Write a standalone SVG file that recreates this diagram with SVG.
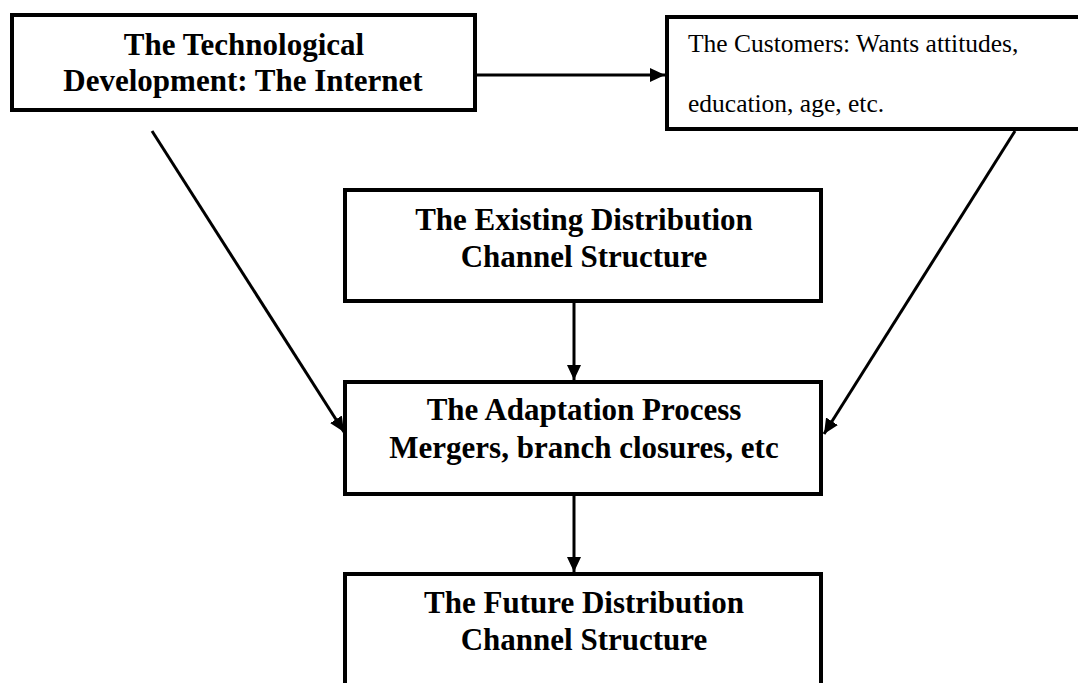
<svg xmlns="http://www.w3.org/2000/svg" width="1078" height="683" viewBox="0 0 1078 683">
<style>
.box{fill:#fff;stroke:#000;stroke-width:4}
.t{font-family:"Liberation Serif","Times New Roman",serif;font-weight:bold;font-size:31px;text-anchor:middle;fill:#000}
.r{font-family:"Liberation Serif","Times New Roman",serif;font-size:25.5px;fill:#000}
.c{stroke:#000;stroke-width:3;fill:none;marker-end:url(#ah)}
</style>
<defs>
<marker id="ah" markerUnits="userSpaceOnUse" markerWidth="16" markerHeight="16" viewBox="0 0 16 16" refX="15" refY="8" orient="auto">
<path d="M0,1 L15,8 L0,15 Z" fill="#000"/>
</marker>
</defs>
<rect width="1078" height="683" fill="#fff"/>
<g id="connectors">
<line class="c" x1="477" y1="75" x2="665" y2="75"/>
<line class="c" x1="152" y1="131" x2="344" y2="432"/>
<line class="c" x1="1015" y1="131" x2="824" y2="434"/>
<line class="c" x1="574" y1="303" x2="574" y2="380"/>
<line class="c" x1="574" y1="496" x2="574" y2="572"/>
</g>
<g id="tech">
<rect class="box" x="12" y="15" width="463" height="95"/>
<text class="t" x="244" y="55">The Technological</text>
<text class="t" x="243" y="91">Development: The Internet</text>
</g>
<g id="customers">
<rect class="box" x="667" y="17" width="420" height="112"/>
<text class="r" x="688" y="52">The Customers: Wants attitudes,</text>
<text class="r" x="688" y="112">education, age, etc.</text>
</g>
<g id="existing">
<rect class="box" x="345" y="190" width="476" height="111"/>
<text class="t" x="584" y="230">The Existing Distribution</text>
<text class="t" x="584" y="267">Channel Structure</text>
</g>
<g id="adaptation">
<rect class="box" x="345" y="382" width="476" height="112"/>
<text class="t" x="584" y="420">The Adaptation Process</text>
<text class="t" x="584" y="458">Mergers, branch closures, etc</text>
</g>
<g id="future">
<rect class="box" x="345" y="574" width="476" height="130"/>
<text class="t" x="584" y="613">The Future Distribution</text>
<text class="t" x="584" y="650">Channel Structure</text>
</g>
</svg>
